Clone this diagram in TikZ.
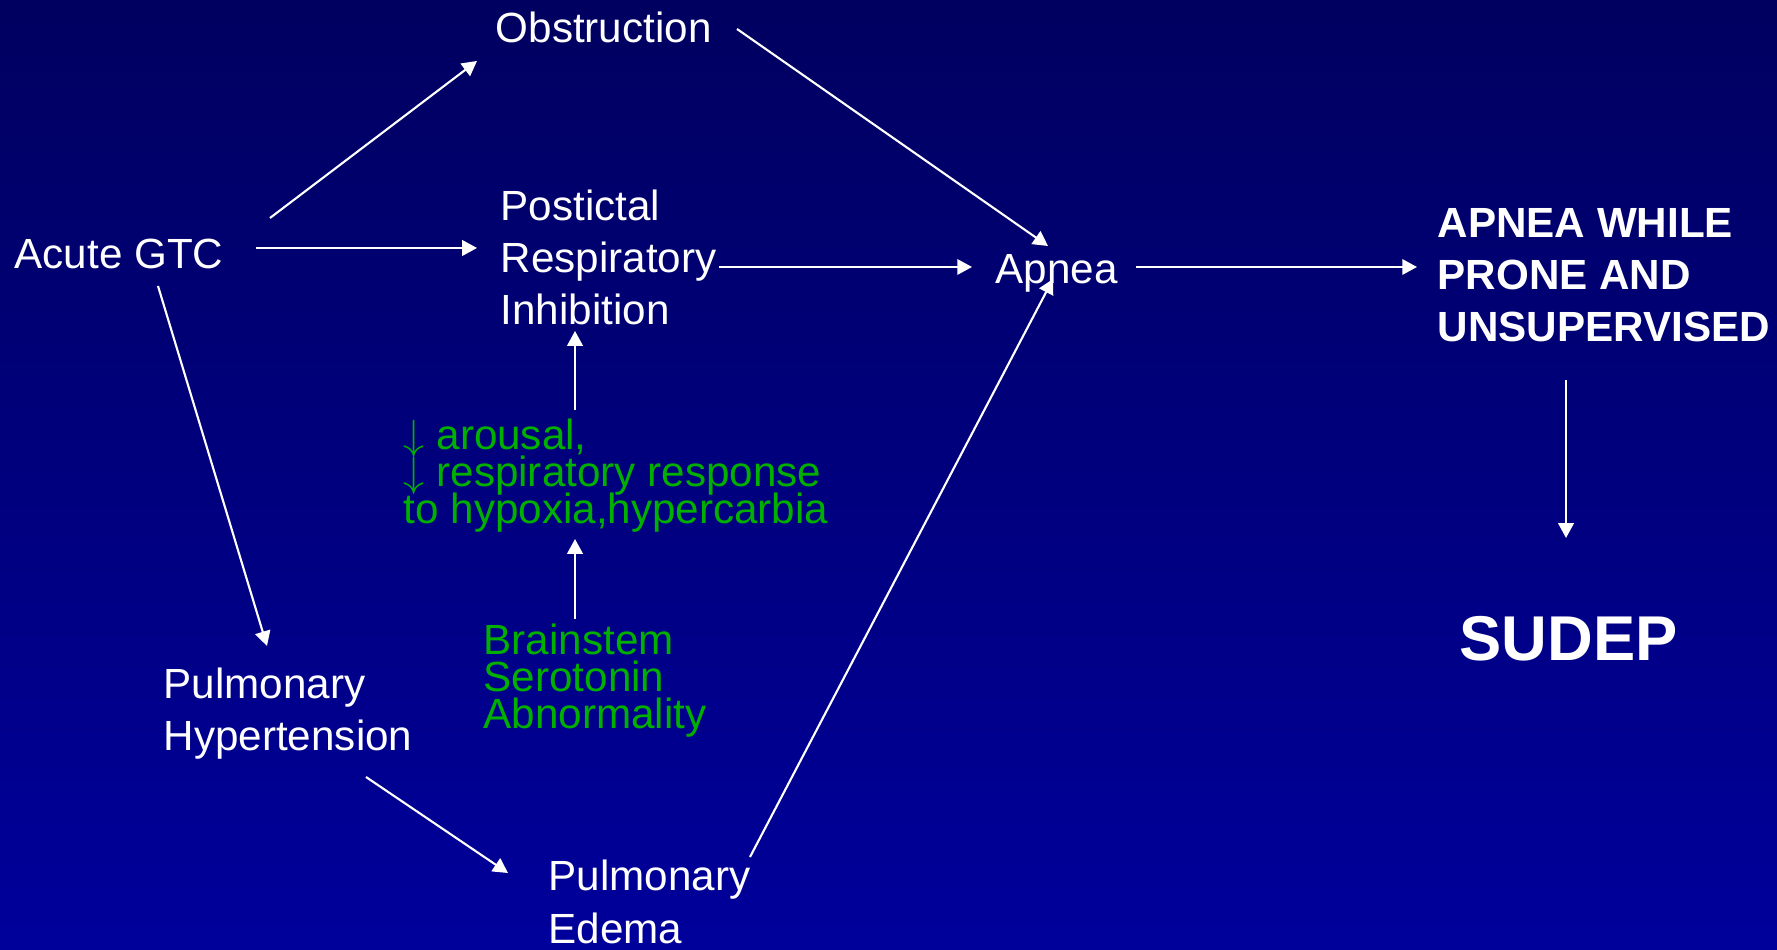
\documentclass[tikz,border=0pt]{standalone}
\usepackage{fontspec}
\setmainfont{Liberation Sans}
\usetikzlibrary{arrows.meta}
\definecolor{slidetop}{RGB}{0,0,96}
\definecolor{slidebottom}{RGB}{0,0,155}
\definecolor{mechgreen}{RGB}{0,176,0}
\lineskiplimit=-100pt

\begin{document}
\begin{tikzpicture}[x=0.01cm, y=0.01cm,
  every node/.style={inner sep=0pt, anchor=base west, align=left, text=white,
    font=\fontsize{12}{14.8}\selectfont},
  mech/.style={text=mechgreen, font=\fontsize{12}{10.6}\selectfont},
  link/.style={white, line width=0.6pt, -{Triangle[length=4.2pt,width=4.4pt]}}]
  \shade[top color=slidetop, bottom color=slidebottom] (0,0) rectangle (1777,949);

  % pathway nodes (base = baseline of last line)
  \node (gtc) at (14,680) {Acute GTC};
  \node (obs) at (495,906) {Obstruction};
  \node (pri) at (500,624) {Postictal\\Respiratory\\Inhibition};
  \node (apnea) at (995,665) {Apnea};
  \node (prone) at (1437,607) {\bfseries APNEA WHILE\\\bfseries PRONE AND\\\bfseries UNSUPERVISED};
  \node (sudep) at (1459,288) {\fontsize{18}{20}\selectfont\bfseries SUDEP};
  \node (phyp) at (163,198) {Pulmonary\\Hypertension};
  \node (pedema) at (548,6) {Pulmonary\\Edema};
  \node[mech] (arousal) at (403,425) {$\downarrow$ arousal,\\$\downarrow$ respiratory response\\to hypoxia,hypercarbia};
  \node[mech] (brain) at (483,220) {Brainstem\\Serotonin\\Abnormality};

  % connectors
  \draw[link] ([shift={(256,51)}]gtc.base west) -- ([shift={(-18,-18)}]obs.base west);
  \draw[link] ([shift={(242,21)}]gtc.base west) -- ([shift={(-23,77)}]pri.base west);
  \draw[link] ([shift={(144,-17)}]gtc.base west) -- ([shift={(104,105)}]phyp.base west);
  \draw[link] ([shift={(242,14)}]obs.base west) -- ([shift={(53,38)}]apnea.base west);
  \draw[link] ([shift={(219,58)}]pri.base west) -- ([shift={(-23,17)}]apnea.base west);
  \draw[link] ([shift={(141,17)}]apnea.base west) -- ([shift={(-20,75)}]prone.base west);
  \draw[link] ([shift={(129,-38)}]prone.base west) -- ([shift={(107,123)}]sudep.base west);
  \draw[link] ([shift={(203,-26)}]phyp.base west) -- ([shift={(-40,70)}]pedema.base west);
  \draw[link] ([shift={(202,86)}]pedema.base west) -- ([shift={(58,5)}]apnea.base west);
  \draw[link] ([shift={(172,114)}]arousal.base west) -- ([shift={(75,-6)}]pri.base west);
  \draw[link] ([shift={(92,110)}]brain.base west) -- ([shift={(172,-15)}]arousal.base west);
\end{tikzpicture}
\end{document}
